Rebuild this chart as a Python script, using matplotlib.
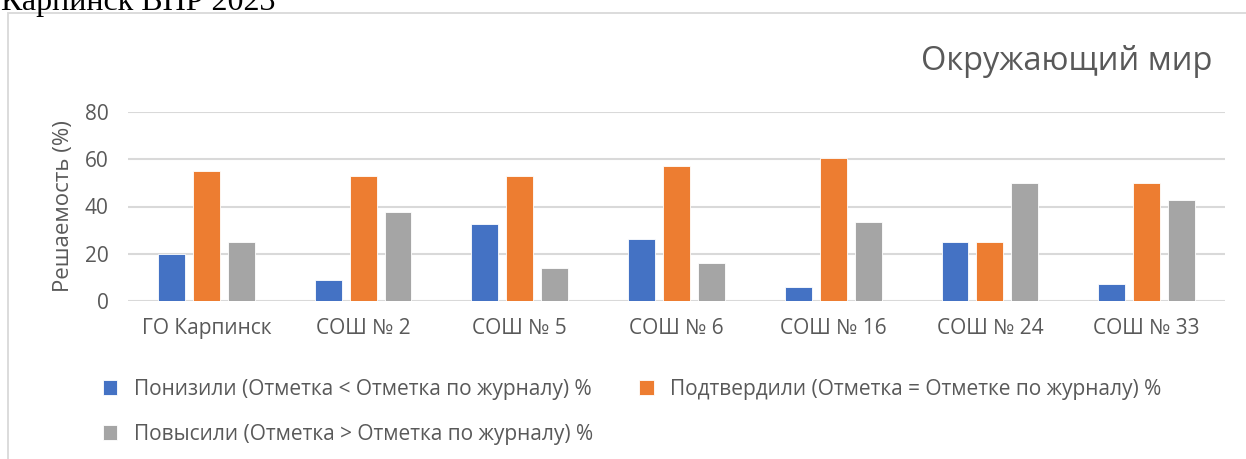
import matplotlib.pyplot as plt
import numpy as np
from matplotlib.patches import Rectangle

categories = ['ГО Карпинск', 'СОШ № 2', 'СОШ № 5', 'СОШ № 6', 'СОШ № 16', 'СОШ № 24', 'СОШ № 33']
lowered = [19.8, 9.0, 32.8, 26.4, 6.1, 25.0, 7.1]
confirmed = [55.1, 53.0, 53.1, 57.2, 60.5, 25.0, 50.0]
raised = [25.0, 37.7, 13.8, 16.2, 33.3, 50.0, 42.9]
series_names = ['Понизили (Отметка < Отметка по журналу) %',
                'Подтвердили (Отметка = Отметке по журналу) %',
                'Повысили (Отметка > Отметка по журналу) %']
colors = ['#4472C4', '#ED7D31', '#A5A5A5']

W, H = 1246, 459
plt.rcParams['font.family'] = ['Open Sans', 'DejaVu Sans']
fig = plt.figure(figsize=(W / 100, H / 100), dpi=100)

# chart frame (partially out of the picture)
fig.patches.append(Rectangle((8 / W, -0.1), 1.2, 1 - 13 / H + 0.1, transform=fig.transFigure,
                             fill=False, edgecolor='#d9d9d9', lw=1.3))
fig.text(1 / W, 1 - 10 / H, 'Карпинск ВПР 2023', family='Liberation Serif',
         fontsize=23, va='baseline', ha='left')

ax = fig.add_axes([128 / W, 1 - 301 / H, (1225 - 128) / W, (301 - 112) / H])
x = np.arange(len(categories))
bw = 0.172
step = 0.223
handles = []
for i, (vals, c, name) in enumerate(zip([lowered, confirmed, raised], colors, series_names)):
    b = ax.bar(x + (i - 1) * step, vals, bw, color=c, label=name, zorder=3,
               edgecolor='white', linewidth=0.6)
    handles.append(b)

ax.set_xlim(-0.5, len(categories) - 0.5)
ax.set_ylim(0, 80)
ax.set_yticks([0, 20, 40, 60, 80])
ax.set_xticks(x)
ax.set_xticklabels(categories)
ax.grid(axis='y', color='#d9d9d9', lw=1.5, zorder=0)
for s in ax.spines.values():
    s.set_visible(False)
ax.tick_params(length=0, labelsize=15, labelcolor='#595959', pad=12)
ax.tick_params(axis='y', pad=14)
ax.set_ylabel('Решаемость (%)', fontsize=16, color='#595959', labelpad=8)

fig.text(1212 / W, 1 - 61 / H, 'Окружающий мир', ha='right', va='center',
         fontsize=23.5, color='#595959')

# row-wise order like the original: row 1 -> first two series, row 2 -> third
order = [0, 2, 1]
leg = fig.legend([handles[k] for k in order], [series_names[k] for k in order],
                 loc='upper left', bbox_to_anchor=(84 / W, 1 - 360 / H), ncol=2,
                 frameon=False, fontsize=15, labelcolor='#595959',
                 handlelength=0.7, handleheight=0.7, handletextpad=0.8,
                 columnspacing=2.2, labelspacing=1.15)

fig.savefig('out.png', dpi=100)
